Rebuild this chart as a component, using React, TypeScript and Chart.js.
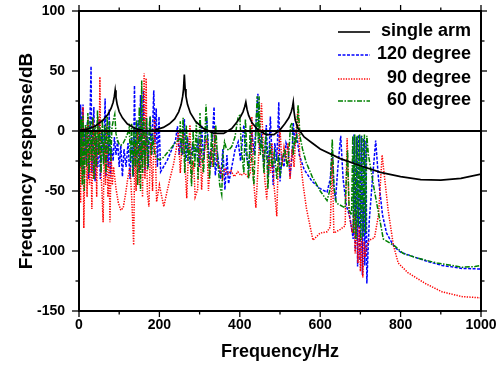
import React, { useEffect, useRef } from 'react';
import { Chart, registerables } from 'chart.js';

Chart.register(...registerables);

const FONT = '"Liberation Sans", Arial, Helvetica, sans-serif';

// ---- data: [frequency Hz, response dB] ----
const singleArm: [number, number][] = [
  [0, 0.5], [20, 1.5], [40, 4], [60, 9], [72, 14], [80, 19], [85, 24], [88, 29], [90, 34], [92, 28], [95, 22],
  [100, 16], [108, 11], [120, 6], [140, 2], [165, 0], [190, 1], [210, 3], [225, 6], [238, 10], [248, 16],
  [254, 22], [258, 29], [260, 35], [262, 47], [264, 35], [266, 29], [270, 22], [277, 15], [290, 8], [310, 2],
  [335, -2], [360, -2], [380, 2], [392, 7], [402, 12], [408, 16], [412, 20], [415, 24], [418, 18], [422, 13],
  [430, 7], [445, 1], [465, -3], [485, -3], [500, 1], [512, 6], [522, 11], [528, 16], [531, 20], [533, 24],
  [535, 16], [538, 9], [545, 2], [560, -5], [580, -10], [600, -15], [650, -23], [700, -29], [750, -34.5],
  [800, -38], [850, -40.5], [900, -41], [950, -39.5], [1000, -36],
];

const deg120: [number, number][] = [
  [0, 10], [2, -15], [4, 22], [6, -30], [8, 12], [10, 22], [12, -38], [15, 0], [18, -25], [21, 8], [24, -40],
  [27, 5], [30, 54], [32, -35], [35, 0], [37, 20], [40, -42], [43, -5], [47, -30], [50, 10], [53, -40], [57, 0],
  [61, -25], [65, 27], [67, -38], [70, -10], [73, -30], [75, 18], [78, -38], [81, -14], [85, -25], [88, -5],
  [92, -20], [96, -8], [100, -30], [104, -12], [108, -38], [112, -15], [117, -30], [122, -10], [127, -40],
  [131, -5], [135, -38], [138, 38], [141, -30], [144, -10], [147, 9], [150, -35], [153, 30], [156, -25],
  [160, 34], [164, -35], [168, 10], [172, -30], [177, 12], [181, -20], [186, 34], [189, -10], [192, 19],
  [195, -30], [199, 12], [203, -34], [210, -30], [220, -24], [230, -16], [240, -8], [245, 4], [249, -20],
  [253, -8], [258, -20], [262, 10], [266, -25], [270, -5], [276, -28], [282, -12], [290, -20], [296, -8],
  [300, -30], [305, 5], [310, -25], [318, 11], [322, -15], [328, -30], [336, 20], [339, -37], [345, -20],
  [352, -40], [358, -15], [363, -49], [368, -20], [372, -44], [380, -30], [388, -16], [396, -9], [402, -25],
  [410, 5], [416, -20], [422, -30], [430, 0], [436, -20], [441, 10], [445, 31], [449, -15], [454, -5],
  [460, -30], [466, 5], [471, -38], [476, 12], [480, -20], [483, -45], [487, -10], [492, -25], [497, 24],
  [500, -42], [505, -22], [510, -30], [515, -10], [520, -15], [525, -38], [530, -20], [533, 7], [537, -10],
  [541, -2], [548, -20], [560, -32], [580, -42], [600, -48], [617, -51], [625, -40], [630, -16], [634, -45],
  [638, -58], [644, -30], [651, -4], [657, -40], [665, -62], [674, -72], [682, -90], [684, -3], [687, -100],
  [690, -5], [693, -113], [696, -3], [699, -108], [702, -4], [705, -120], [708, -6], [711, -112], [714, -8],
  [716, -127], [722, -75], [730, -40], [738, -8], [745, -40], [755, -70], [765, -85], [778, -93], [786, -97],
  [800, -101], [843, -106], [870, -109], [903, -112], [953, -114.5], [1000, -115],
];

const deg90: [number, number][] = [
  [0, 35], [2, -10], [4, -60], [6, 10], [8, -40], [10, 20], [12, -81], [15, -15], [18, 5], [20, -55], [23, 12],
  [26, -45], [29, -5], [32, -65], [35, 10], [38, -40], [41, 0], [44, -55], [47, 12], [50, -20], [52, 45],
  [54, -30], [57, -50], [60, -76], [63, -10], [66, -45], [69, 5], [72, -55], [75, -25], [77, -76], [80, -20],
  [83, -45], [86, -30], [92, -48], [98, -60], [104, -66], [110, -64], [116, -52], [122, -38], [127, -30],
  [131, -55], [136, -95], [139, -10], [142, -50], [146, 0], [150, -45], [155, 10], [158, -55], [162, 48],
  [164, -40], [167, 44], [170, -52], [174, -63], [178, -10], [183, -50], [188, 10], [193, -59], [200, -45],
  [206, -55], [211, -63], [218, -52], [226, -40], [235, -28], [242, -15], [247, -1], [252, -35], [259, 1],
  [264, -30], [268, -56], [272, -20], [276, 5], [280, -40], [285, -25], [289, -55], [295, -49], [301, -6],
  [305, -49], [310, -20], [318, -6], [322, -50], [328, -15], [333, -30], [338, 2.5], [343, -25], [350, -30],
  [357, -40], [363, -31], [370, -36], [378, -33], [386, -38], [395, -34], [403, -37], [412, -35], [420, -38],
  [426, -36], [430, 12], [434, -40], [440, -64], [447, -20], [454, 23], [458, -10], [462, -40], [467, -57],
  [472, -20], [477, -35], [480, -10], [485, -45], [492, -71], [496, -20], [500, 2.5], [505, -29], [510, -14],
  [515, -25], [520, -10], [525, -40], [530, -15], [535, -30], [540, 0], [545, 20], [549, -20], [558, -46],
  [566, -65], [582, -91], [600, -85], [617, -84], [625, -80], [630, -23], [634, -85], [650, -82], [662, -79],
  [667, -6], [672, -70], [680, -85], [684, -66], [687, -102], [690, -75], [694, -110], [697, -80], [700, -117],
  [703, -88], [706, -122], [709, -92], [712, -105], [716, -95], [722, -91], [735, -89], [745, -70], [754, -20],
  [769, -66], [782, -95], [794, -110], [818, -118], [861, -127], [903, -134], [953, -138], [1000, -139],
];

const deg60: [number, number][] = [
  [0, 5], [2, 19], [4, -30], [6, 10], [8, -45], [10, 13], [13, -50], [16, 5], [19, -30], [22, 15], [25, -35],
  [28, 8], [31, -25], [34, 12], [37, -40], [40, 5], [43, -30], [46, 17], [49, -20], [52, 3], [55, -35],
  [58, 10], [61, -28], [64, 5], [67, -35], [70, 12], [73, -20], [76, 8], [79, -25], [82, 3], [86, 10],
  [89, 14], [92, -2], [96, -8], [100, -11], [104, -12], [110, -10], [116, -6], [121, -2], [125, 3], [128, -25],
  [131, 6], [134, -38], [137, 2], [140, -30], [143, 9], [146, -45], [150, 20], [153, -50], [156, 42],
  [158, -35], [161, 10], [164, -30], [168, 11], [171, -32], [175, 5], [177, 12], [180, -20], [184, -6],
  [189, -20], [195, -23], [201, -24], [210, -22], [220, -18], [232, -13], [242, -9], [250, -7], [252, 8],
  [255, -20], [259, 11], [263, -35], [267, 5], [271, -25], [275, -10], [280, -46], [284, 0], [288, -30],
  [292, 8], [296, -40], [301, 15], [305, -20], [310, -35], [316, 22], [320, -10], [325, -40], [330, 0],
  [335, -30], [340, 5], [345, -25], [350, -45], [355, -53], [358, -20], [362, -9], [366, -14], [372, -16],
  [380, -13], [388, -5], [396, 12], [400, 13], [404, -15], [410, -35], [414, 10], [418, -20], [422, -40],
  [426, 5], [430, -25], [435, -45], [440, 0], [443, 29], [446, -10], [448, 29], [451, -20], [455, -5],
  [460, -35], [465, 0], [470, -48], [475, -10], [480, -30], [486, -18], [492, -40], [496, -20], [500, -38],
  [505, -25], [512, -15], [518, -30], [522, -18], [526, 4], [530, 7], [533, -20], [537, -5], [541, -10],
  [545, 22], [550, -5], [556, -15], [565, -26], [580, -38], [600, -50], [617, -58], [625, -48], [630, -7],
  [634, -46], [640, -60], [662, -64], [668, -16], [672, -66], [678, -70], [681, -4], [683, -85], [686, -3],
  [689, -90], [692, -4], [695, -80], [698, -3], [701, -91], [704, -4], [707, -88], [710, -3], [713, -85],
  [716, -4], [720, -20], [735, -50], [757, -90], [786, -96], [806, -102], [843, -106], [890, -110],
  [953, -113.5], [985, -113], [1000, -112],
];

const zeroLineHz = [0, 1000];

const xMajorTicks = [0, 200, 400, 600, 800, 1000];
const xMinorTicks = [100, 300, 500, 700, 900];
const yMajorTicks = [100, 50, 0, -50, -100, -150];
const yMinorTicks = [75, 25, -25, -75, -125];

const seriesLabels = ['single arm', '120 degree', '90 degree', '60 degree'];
const seriesColors = ['#000000', '#0000ff', '#ff0000', '#008000'];
const seriesDashes: number[][] = [[], [3, 1.5], [1.3, 1.3], [5, 1.5, 1.5, 1.5]];

const toPoints = (arr: [number, number][]) => arr.map(([x, y]) => ({ x, y }));

const noPadding = (s: any) => {
  s.paddingTop = 0;
  s.paddingBottom = 0;
  s.paddingLeft = 0;
  s.paddingRight = 0;
};

const frameTicksPlugin = {
  id: 'frameTicks',
  afterDraw(chart: any) {
    const { ctx, chartArea: a, scales } = chart;
    const xs = scales.x;
    const ys = scales.y;
    ctx.save();
    ctx.strokeStyle = '#000';
    ctx.lineWidth = 1.3;
    ctx.setLineDash([]);
    const seg = (x1: number, y1: number, x2: number, y2: number) => {
      ctx.beginPath();
      ctx.moveTo(x1, y1);
      ctx.lineTo(x2, y2);
      ctx.stroke();
    };
    xMajorTicks.forEach((v) => {
      const p = xs.getPixelForValue(v);
      seg(p, a.bottom, p, a.bottom + 6);
      seg(p, a.top, p, a.top - 6);
    });
    xMinorTicks.forEach((v) => {
      const p = xs.getPixelForValue(v);
      seg(p, a.bottom, p, a.bottom + 3.5);
      seg(p, a.top, p, a.top - 3.5);
    });
    yMajorTicks.forEach((v) => {
      const p = ys.getPixelForValue(v);
      seg(a.left, p, a.left - 7, p);
      seg(a.right, p, a.right + 6, p);
    });
    yMinorTicks.forEach((v) => {
      const p = ys.getPixelForValue(v);
      seg(a.left, p, a.left - 3.5, p);
      seg(a.right, p, a.right + 3.5, p);
    });
    // frame
    ctx.lineWidth = 2;
    ctx.strokeRect(a.left, a.top, a.right - a.left, a.bottom - a.top);

    // legend
    const rowY = [a.top + 20, a.top + 43, a.top + 67, a.top + 89];
    const sampleX1 = a.right - 143;
    const sampleX2 = a.right - 111;
    const textRight = a.right - 10;
    ctx.font = `bold 18px ${FONT}`;
    ctx.textAlign = 'right';
    ctx.textBaseline = 'middle';
    seriesLabels.forEach((label, i) => {
      ctx.strokeStyle = seriesColors[i];
      ctx.lineWidth = i === 0 ? 1.6 : 1.5;
      ctx.setLineDash(seriesDashes[i]);
      seg(sampleX1, rowY[i] + 1, sampleX2, rowY[i] + 1);
      ctx.setLineDash([]);
      ctx.fillStyle = '#000';
      ctx.fillText(label, textRight, rowY[i]);
    });
    ctx.restore();
  },
};

export default function App() {
  const canvasRef = useRef<HTMLCanvasElement | null>(null);

  useEffect(() => {
    document.body.style.margin = '0';
    const canvas = canvasRef.current;
    if (!canvas) return;
    const chart = new Chart(canvas, {
      type: 'line',
      data: {
        datasets: [
          {
            label: seriesLabels[0],
            data: toPoints(singleArm),
            borderColor: seriesColors[0],
            borderWidth: 1.7,
            pointRadius: 0,
            tension: 0,
            order: 0,
          },
          {
            label: 'zero',
            data: zeroLineHz.map((x) => ({ x, y: 0 })),
            borderColor: '#000',
            borderWidth: 2,
            pointRadius: 0,
            order: 1,
          },
          {
            label: seriesLabels[3],
            data: toPoints(deg60),
            borderColor: seriesColors[3],
            borderWidth: 1.5,
            borderDash: seriesDashes[3],
            pointRadius: 0,
            tension: 0,
            order: 2,
          },
          {
            label: seriesLabels[2],
            data: toPoints(deg90),
            borderColor: seriesColors[2],
            borderWidth: 1.5,
            borderDash: seriesDashes[2],
            pointRadius: 0,
            tension: 0,
            order: 3,
          },
          {
            label: seriesLabels[1],
            data: toPoints(deg120),
            borderColor: seriesColors[1],
            borderWidth: 1.5,
            borderDash: seriesDashes[1],
            pointRadius: 0,
            tension: 0,
            order: 4,
          },
        ],
      },
      options: {
        responsive: false,
        animation: false,
        devicePixelRatio: 1,
        layout: { padding: 0 },
        plugins: {
          legend: { display: false },
          tooltip: { enabled: false },
        },
        scales: {
          x: {
            type: 'linear',
            position: 'bottom',
            min: 0,
            max: 1000,
            afterBuildTicks: (s: any) => {
              s.ticks = xMajorTicks.map((v) => ({ value: v }));
            },
            afterFit: (s: any) => {
              s.height = 56;
              noPadding(s);
            },
            ticks: {
              color: '#000',
              font: { family: FONT, size: 14, weight: 'bold' },
              padding: 6,
              maxRotation: 0,
              autoSkip: false,
              callback: (v: any) => String(v),
            },
            grid: { display: false, drawTicks: false },
            border: { display: false },
            title: {
              display: true,
              text: 'Frequency/Hz',
              color: '#000',
              font: { family: FONT, size: 18, weight: 'bold' },
              padding: { top: 0, bottom: 4 },
            },
          },
          y: {
            type: 'linear',
            position: 'left',
            min: -150,
            max: 100,
            afterBuildTicks: (s: any) => {
              s.ticks = yMajorTicks.map((v) => ({ value: v }));
            },
            afterFit: (s: any) => {
              s.width = 79;
              noPadding(s);
            },
            ticks: {
              color: '#000',
              font: { family: FONT, size: 14, weight: 'bold' },
              padding: 14,
              autoSkip: false,
              callback: (v: any) => String(v),
            },
            grid: { display: false, drawTicks: false },
            border: { display: false },
            title: {
              display: true,
              text: 'Frequency response/dB',
              color: '#000',
              font: { family: FONT, size: 19, weight: 'bold' },
              padding: { top: 15, bottom: 0 },
            },
          },
          xTop: {
            type: 'linear',
            position: 'top',
            min: 0,
            max: 1000,
            afterFit: (s: any) => {
              s.height = 11;
              noPadding(s);
            },
            ticks: { display: false },
            grid: { display: false, drawTicks: false },
            border: { display: false },
          },
          yRight: {
            type: 'linear',
            position: 'right',
            min: -150,
            max: 100,
            afterFit: (s: any) => {
              s.width = 19;
              noPadding(s);
            },
            ticks: { display: false },
            grid: { display: false, drawTicks: false },
            border: { display: false },
          },
        },
      } as any,
      plugins: [frameTicksPlugin],
    });
    return () => chart.destroy();
  }, []);

  return (
    <div style={{ width: 500, height: 367 }}>
      <canvas ref={canvasRef} width={500} height={367} style={{ display: 'block', width: 500, height: 367 }} />
    </div>
  );
}
